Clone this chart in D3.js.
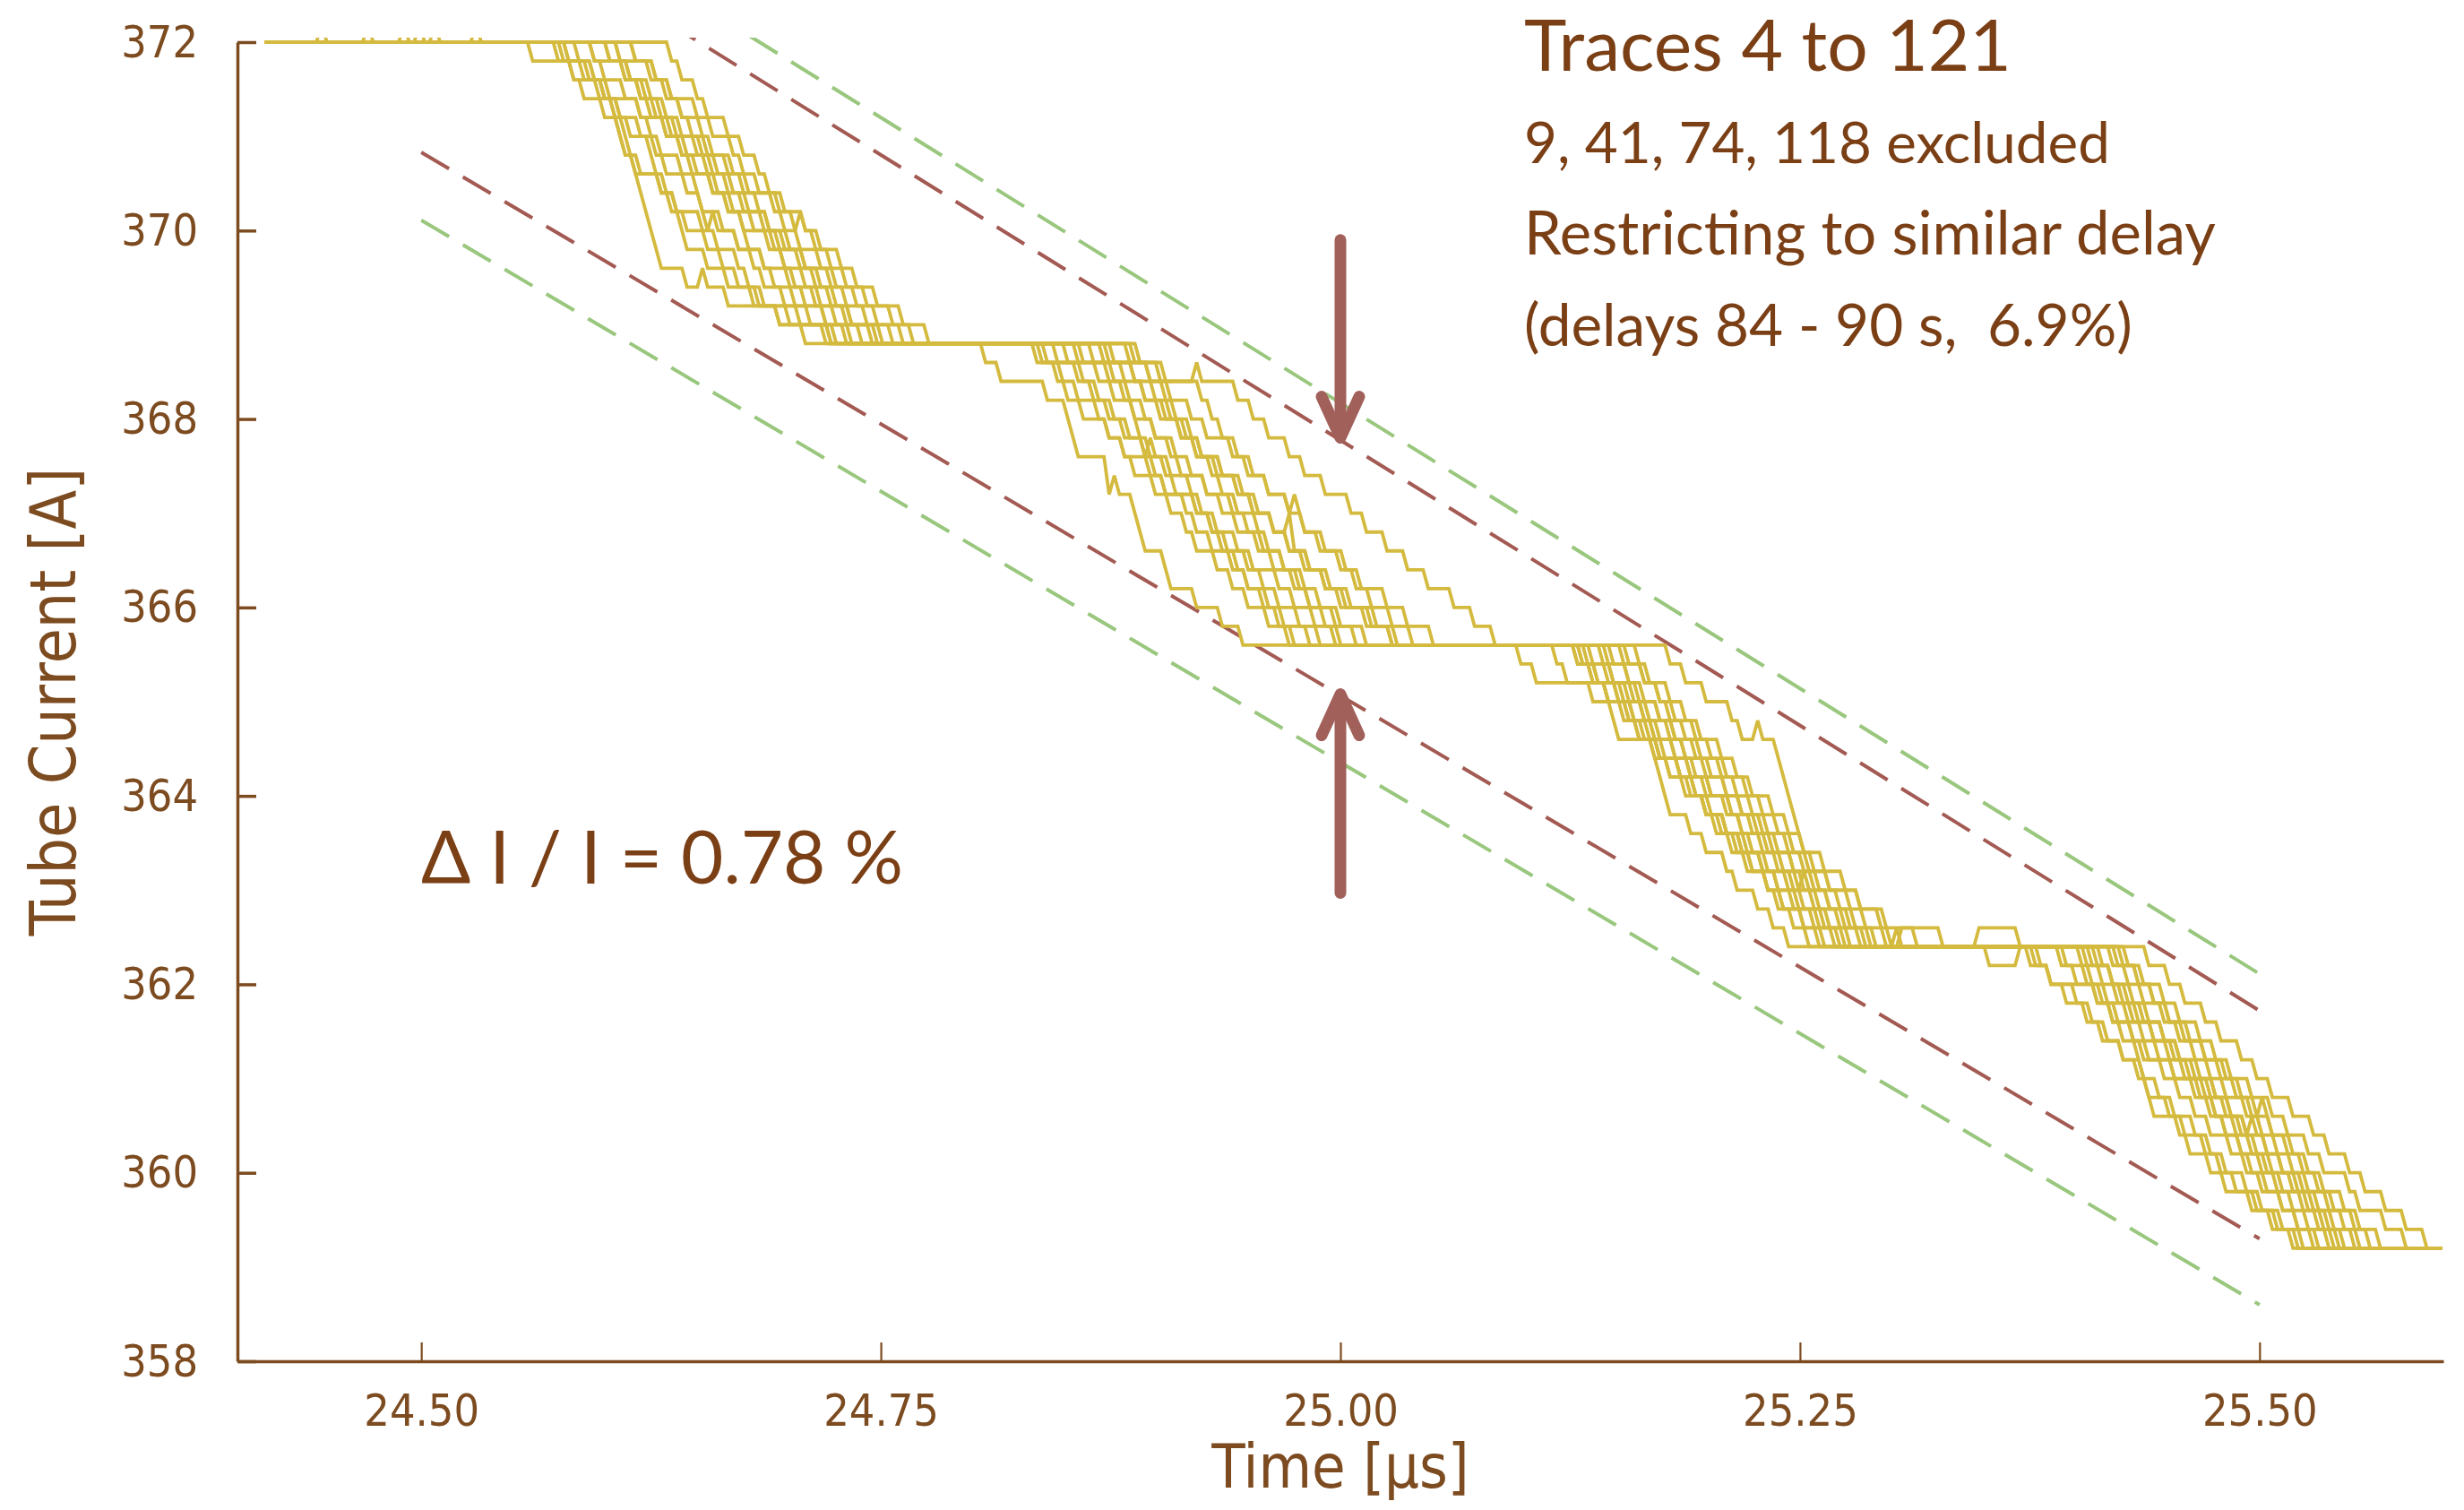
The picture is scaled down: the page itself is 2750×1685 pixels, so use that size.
<!DOCTYPE html>
<html>
<head>
<meta charset="utf-8">
<script src="https://cdn.jsdelivr.net/npm/d3@7/dist/d3.min.js"></script>
<style>
  html, body { margin: 0; padding: 0; background: #ffffff; }
  svg { display: block; }
  .tick-label { font-family: "DejaVu Sans Condensed", "DejaVu Sans", sans-serif; font-stretch: condensed; }
  .note { font-family: Lato, "Open Sans", sans-serif; white-space: pre; }
</style>
</head>
<body>
<svg id="chart" width="2750" height="1685"></svg>
<script>
// ---------------- data ----------------
const xTicks = [24.50, 24.75, 25.00, 25.25, 25.50];
const yTicks = [358, 360, 362, 364, 366, 368, 370, 372];
const xDomain = [24.40, 25.60];
const yDomain = [358, 372];

// digitiser: one sample every 2.8 ns, current quantised in 0.2 A levels
const sampleStep = 0.0028;          // µs
const levelStep = 0.2;              // A
const traceFrom = 24.415, traceTo = 25.60;
const plateaus = [372, 368.8, 365.6, 362.4, 359.2];

// time (µs) at which each of the 15 traces leaves a plateau, one list per step-down
const leave1 = [24.557, 24.572, 24.574, 24.576, 24.578, 24.582, 24.591, 24.592, 24.599, 24.601, 24.605, 24.606, 24.614, 24.615, 24.633];
const leave2 = [24.804, 24.832, 24.835, 24.838, 24.843, 24.849, 24.854, 24.857, 24.862, 24.868, 24.872, 24.875, 24.882, 24.885, 24.888];
const leave3 = [25.096, 25.114, 25.125, 25.127, 25.129, 25.130, 25.132, 25.135, 25.139, 25.142, 25.145, 25.152, 25.155, 25.160, 25.176];
const leave4 = [25.372, 25.376, 25.379, 25.388, 25.392, 25.400, 25.403, 25.406, 25.410, 25.413, 25.418, 25.420, 25.424, 25.427, 25.437];

// samples spent on each of the 15 intermediate levels during a step-down
const holds1 = [
  [9,3,1,0,0,2,4,1,0,0,3,5,2,6,8],
  [2,1,3,2,0,1,4,2,1,3,2,0,5,3,4],
  [1,4,2,2,3,0,0,1,5,2,3,1,2,6,4],
  [3,2,2,0,0,0,0,0,0,0,0,4,7,9,9],
  [4,1,2,3,2,1,3,2,2,3,2,1,3,4,3],
  [2,2,5,1,1,3,2,0,3,2,4,1,3,5,3],
  [5,2,1,2,3,1,2,3,1,0,2,4,2,3,4],
  [1,3,2,4,2,1,3,2,2,5,1,3,2,4,4],
  [3,1,2,2,1,4,1,2,3,2,2,1,3,3,4],
  [2,4,1,3,2,2,3,1,4,2,2,3,1,3,4],
  [6,2,1,1,2,3,2,2,1,3,2,4,2,3,4],
  [1,2,3,1,4,2,1,3,2,2,4,1,3,2,5],
  [2,2,2,3,1,3,2,4,1,2,3,2,3,3,4],
  [3,2,4,2,3,1,2,3,2,4,3,2,3,4,4],
  [1,2,1,3,2,2,1,2,3,1,2,2,3,4,3]
];
const holds2 = [
  [2,8,3,0,0,5,1,2,0,0,3,0,4,4,3],
  [3,1,2,4,2,1,3,2,2,1,3,2,2,3,3],
  [12,2,1,0,1,2,1,3,2,1,2,1,2,2,2],
  [2,2,3,1,2,4,2,3,1,2,3,2,3,2,4],
  [4,1,2,2,3,1,1,5,2,2,3,2,2,3,3],
  [1,3,2,2,4,2,3,1,2,3,2,4,2,3,3],
  [10,3,2,1,2,2,1,2,3,1,2,2,1,2,2],
  [2,2,3,3,2,1,4,2,2,3,2,3,2,4,3],
  [3,2,2,1,3,2,2,4,2,2,3,3,2,3,4],
  [8,2,1,2,1,3,2,2,3,2,2,3,2,4,4],
  [2,3,2,4,2,2,3,2,3,2,3,2,3,4,3],
  [3,1,3,2,2,4,3,2,2,3,2,3,3,4,3],
  [6,6,1,1,2,2,2,3,2,2,3,2,2,3,3],
  [2,3,3,2,4,2,3,3,2,3,3,2,4,3,4],
  [3,14,2,2,3,2,3,4,2,3,3,3,4,3,3]
];
const holds3 = [
  [2,10,3,0,6,0,0,0,3,2,3,1,3,2,2],
  [1,9,2,3,1,2,2,1,3,2,1,2,1,2,2],
  [2,2,3,1,2,2,3,2,1,2,3,2,2,3,2],
  [3,1,2,2,3,1,2,3,2,2,1,3,2,3,3],
  [1,2,4,2,1,3,2,2,2,3,2,2,3,2,3],
  [2,3,1,2,2,3,2,1,3,2,3,2,2,4,3],
  [4,2,2,1,3,2,2,3,2,1,2,3,2,3,3],
  [2,2,3,2,2,2,3,2,2,3,2,2,3,2,3],
  [1,3,2,3,2,1,2,3,3,2,2,3,2,3,3],
  [3,2,2,2,1,3,3,2,2,2,3,2,3,2,3],
  [2,1,3,2,3,2,2,2,3,2,2,3,2,3,3],
  [3,2,1,2,2,3,2,2,2,3,2,2,3,2,3],
  [2,2,2,3,2,2,3,2,2,2,3,2,3,2,3],
  [1,3,2,2,3,2,2,3,2,2,3,3,2,3,3],
  [2,3,4,1,6,0,0,0,0,0,0,3,5,4,5]
];
const holds4 = [
  [3,8,2,1,2,0,0,0,4,1,3,2,4,3,3],
  [2,2,3,2,3,2,1,3,2,3,2,2,3,3,3],
  [1,4,2,2,2,3,2,2,3,2,2,3,2,3,3],
  [2,3,2,3,3,3,6,0,1,2,1,2,2,2,2],
  [3,2,2,2,1,3,2,2,2,3,2,2,3,2,3],
  [1,2,3,2,2,2,3,2,2,2,3,2,2,2,3],
  [2,2,2,3,2,2,2,2,3,2,2,2,3,2,2],
  [3,1,2,2,3,2,2,3,2,2,2,3,2,2,2],
  [2,3,2,2,2,2,3,2,2,3,2,2,2,2,2],
  [1,2,2,3,2,3,2,2,2,3,2,3,2,2,3],
  [2,2,3,2,2,2,2,3,2,2,2,2,3,2,2],
  [3,2,2,2,3,2,2,2,3,2,2,2,2,3,2],
  [2,2,2,3,2,3,2,2,2,3,2,2,3,2,3],
  [2,3,2,3,2,2,3,3,2,3,2,3,2,4,3],
  [3,2,3,2,3,2,2,3,3,2,3,2,3,3,3]
];

// short excursions: [trace, from µs, to µs, +1 one level up / -1 one level down]
const blips = [
  [4, 24.445, 24.445, 1], [7, 24.470, 24.470, 1], [9, 24.490, 24.490, 1],
  [11, 24.500, 24.500, 1], [12, 24.506, 24.506, 1], [6, 24.530, 24.530, 1],
  [3, 24.652, 24.652, 1], [5, 24.656, 24.656, -1], [8, 24.666, 24.666, -1], [13, 24.706, 24.706, 1],
  [0, 24.873, 24.873, -1], [5, 24.895, 24.895, -1], [14, 24.921, 24.921, 1],
  [11, 24.973, 24.973, 1], [12, 24.976, 24.976, 1],
  [6, 25.210, 25.210, 1], [14, 25.226, 25.226, 1], [10, 25.250, 25.250, -1], [13, 25.300, 25.300, -1],
  [2, 25.305, 25.325, 1], [0, 25.346, 25.366, 1], [1, 25.352, 25.368, -1],
  [3, 25.440, 25.440, -1], [9, 25.495, 25.495, 1], [12, 25.502, 25.502, 1], [13, 25.546, 25.546, 1]
];

// ±0.78 % envelope lines: [current at 24.50 µs, current at 25.50 µs]
const envelopeTimes = [24.50, 25.50];
const outerUpper = [374.23, 362.11];
const innerUpper = [373.83, 361.72];
const innerLower = [370.83, 359.30];
const outerLower = [370.11, 358.60];

// arrows at 25.00 µs: [tail current, head current]
const arrowTime = 25.00;
const arrowSpans = [[369.90, 367.80], [362.97, 365.08]];

const noteLines = ["Traces 4 to 121", "9, 41, 74, 118 excluded", "Restricting to similar delay", "(delays 84 - 90 s,  6.9%)"];
const ratioLabel = "\u0394 I / I = 0.78 %";
const xTitle = "Time [\u00b5s]";
const yTitle = "Tube Current [A]";

// ---------------- drawing ----------------
const axisColor = "#7d4b20";
const noteColor = "#7b3f15";
const traceColor = "#d4ba3e";
const innerColor = "#a35a53";
const outerColor = "#99c77d";
const arrowColor = "#a2605a";

const svg = d3.select("#chart");
const x = d3.scaleLinear().domain(xDomain).range([265, 2727]);
const y = d3.scaleLinear().domain(yDomain).range([1519, 47]);

svg.append("defs").append("clipPath").attr("id", "plot-clip")
  .append("rect")
  .attr("x", x(xDomain[0])).attr("y", y(yDomain[1]) - 5)
  .attr("width", x(xDomain[1]) - x(xDomain[0]))
  .attr("height", y(yDomain[0]) - y(yDomain[1]) + 5);

const plot = svg.append("g").attr("clip-path", "url(#plot-clip)");

// envelope lines
const envLine = d3.line().x(d => x(d[0])).y(d => y(d[1]));
[[outerUpper, outerColor], [innerUpper, innerColor], [innerLower, innerColor], [outerLower, outerColor]]
  .forEach(([vals, col]) => {
    plot.append("path")
      .attr("d", envLine(envelopeTimes.map((t, k) => [t, vals[k]])))
      .attr("fill", "none")
      .attr("stroke", col)
      .attr("stroke-width", 4)
      .attr("stroke-dasharray", "36,18");
  });

// traces
const nSamples = Math.floor((traceTo - traceFrom) / sampleStep + 1e-9) + 1;
const leaves = [leave1, leave2, leave3, leave4];
const holdSets = [holds1, holds2, holds3, holds4];
const sampleIndex = t => Math.round((t - traceFrom) / sampleStep);

function traceSamples(i) {
  const lv = new Array(nSamples);
  let cur = 0, n = 0;
  for (let d = 0; d < 4; d++) {
    const s = sampleIndex(leaves[d][i]);
    while (n <= s && n < nSamples) lv[n++] = cur;
    const h = holdSets[d][i];
    for (let k = 0; k < 16; k++) {
      cur++;
      if (n < nSamples) lv[n++] = cur;
      const hk = k < 15 ? (h[k] || 0) : 0;
      for (let j = 0; j < hk && n < nSamples; j++) lv[n++] = cur;
    }
  }
  while (n < nSamples) lv[n++] = cur;
  blips.filter(b => b[0] === i).forEach(([, t0, t1, dir]) => {
    for (let m = sampleIndex(t0); m <= sampleIndex(t1); m++) if (m >= 0 && m < nSamples) lv[m] -= dir;
  });
  return lv.map((l, m) => [traceFrom + m * sampleStep, plateaus[0] - levelStep * l]);
}

const traceLine = d3.line().x(d => x(d[0])).y(d => y(d[1]));
plot.append("g").selectAll("path")
  .data(d3.range(leave1.length).map(traceSamples))
  .join("path")
  .attr("d", traceLine)
  .attr("fill", "none")
  .attr("stroke", traceColor)
  .attr("stroke-width", 3.8)
  .attr("stroke-linejoin", "miter")
  .attr("stroke-miterlimit", 3);

// arrows
const arrows = svg.append("g")
  .attr("stroke", arrowColor).attr("stroke-width", 13)
  .attr("stroke-linecap", "round").attr("stroke-linejoin", "round").attr("fill", "none");
arrowSpans.forEach(([from, to]) => {
  const ax = x(arrowTime), y0 = y(from), y1 = y(to);
  const dir = Math.sign(y1 - y0);
  arrows.append("line").attr("x1", ax).attr("y1", y0).attr("x2", ax).attr("y2", y1 - dir * 4);
  arrows.append("path").attr("d", `M${ax - 21},${y1 - dir * 46} L${ax},${y1} L${ax + 21},${y1 - dir * 46}`);
});

// axes
const xAxis = d3.axisBottom(x).tickValues(xTicks).tickFormat(d3.format(".2f"))
  .tickSizeInner(-21).tickSizeOuter(0).tickPadding(36);
const yAxis = d3.axisLeft(y).tickValues(yTicks).tickFormat(d3.format("d"))
  .tickSizeInner(-21).tickSizeOuter(0).tickPadding(44);

const gx = svg.append("g").attr("transform", `translate(0,${y(yDomain[0])})`).call(xAxis);
const gy = svg.append("g").attr("transform", `translate(${x(xDomain[0])},0)`).call(yAxis);

[gx, gy].forEach(g => {
  g.select(".domain").attr("stroke", axisColor).attr("stroke-width", 3.5);
  g.selectAll(".tick text").attr("class", "tick-label")
    .attr("fill", axisColor).attr("font-size", 50);
});
gx.selectAll(".tick line").attr("stroke", axisColor).attr("stroke-width", 2.2);
gy.selectAll(".tick line").attr("stroke", axisColor).attr("stroke-width", 3.5);

// axis titles
svg.append("text").attr("class", "tick-label")
  .attr("x", (x.range()[0] + x.range()[1]) / 2).attr("y", 1660)
  .attr("text-anchor", "middle").attr("font-size", 68).attr("fill", axisColor)
  .text(xTitle);
svg.append("text").attr("class", "tick-label")
  .attr("transform", `translate(84,${(y.range()[0] + y.range()[1]) / 2}) rotate(-90)`)
  .attr("text-anchor", "middle").attr("font-size", 71).attr("fill", axisColor)
  .text(yTitle);

// notes
function fitWidth(sel, target) {
  const w = sel.node().getComputedTextLength();
  if (w > 0) sel.attr("font-size", +sel.attr("font-size") * target / w);
}
const noteY = [79, 182, 284, 386];
const noteW = [544, 654, 772, 679];
noteLines.forEach((txt, k) => {
  const t = svg.append("text").attr("class", "note")
    .attr("x", 1701).attr("y", noteY[k])
    .attr("font-size", k === 0 ? 82 : 62).attr("fill", noteColor)
    .text(txt);
  fitWidth(t, noteW[k]);
});
const ratio = svg.append("text").attr("class", "note")
  .attr("x", 470).attr("y", 986).attr("font-size", 80).attr("fill", noteColor)
  .text(ratioLabel);
fitWidth(ratio, 538);
</script>
</body>
</html>
